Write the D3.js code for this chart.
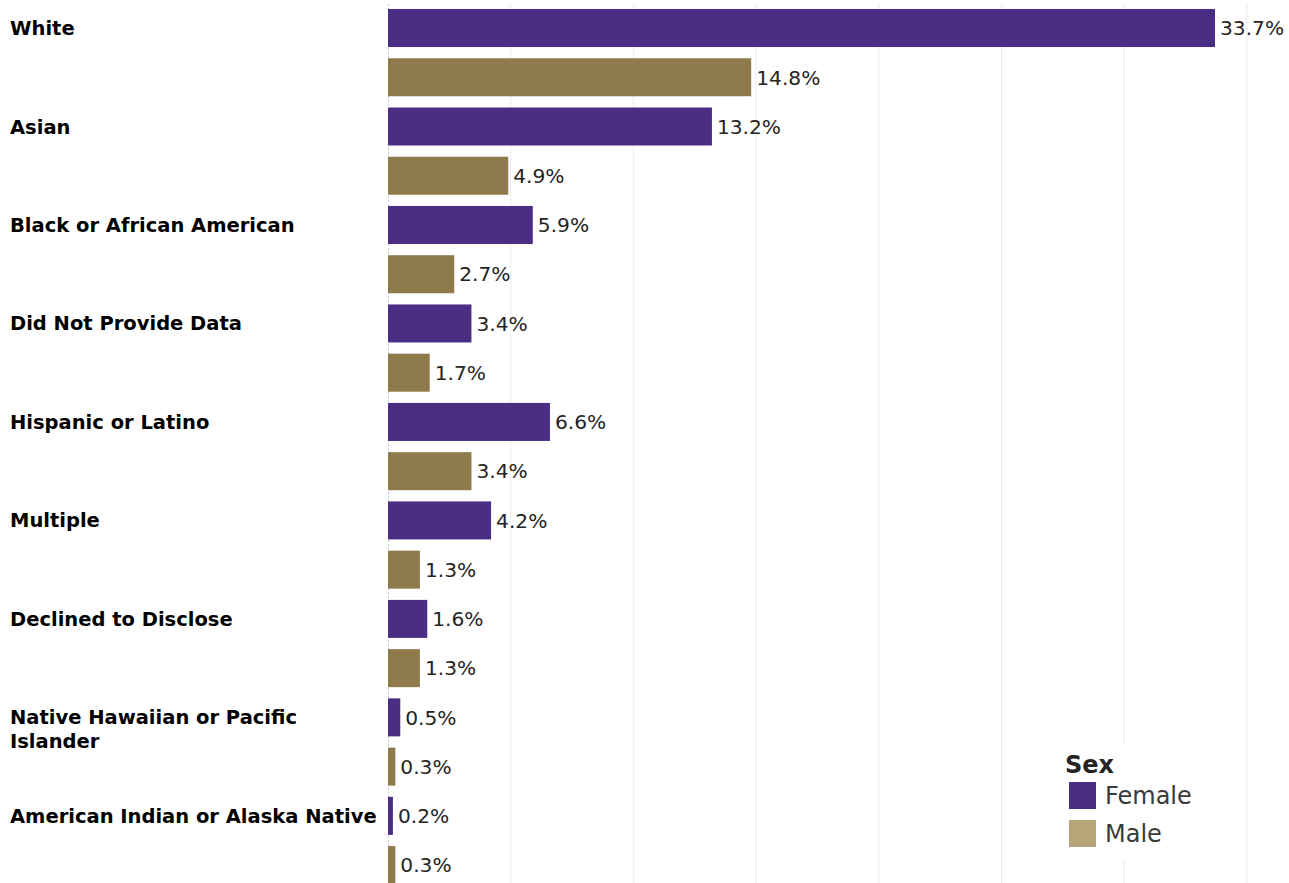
<!DOCTYPE html>
<html>
<head>
<meta charset="utf-8">
<script src="https://cdn.jsdelivr.net/npm/d3@7"></script>
<style>
  html, body { margin: 0; padding: 0; background: #fff; }
  svg { display: block; }
</style>
</head>
<body>
<svg id="chart" width="1289" height="883"></svg>
<script>
// Race / ethnicity breakdown by sex (percent of total)
const categories = [
  "White",
  "Asian",
  "Black or African American",
  "Did Not Provide Data",
  "Hispanic or Latino",
  "Multiple",
  "Declined to Disclose",
  "Native Hawaiian or Pacific Islander",
  "American Indian or Alaska Native"
];
const sexes = ["Female", "Male"];
const femaleValues = [33.7, 13.2, 5.9, 3.4, 6.6, 4.2, 1.6, 0.5, 0.2];
const maleValues   = [14.8, 4.9, 2.7, 1.7, 3.4, 1.3, 1.3, 0.3, 0.3];
const gridTicks = [5, 10, 15, 20, 25, 30, 35];

const barColor = { Female: "#4b2e83", Male: "#8f7a4c" };
const swatchColor = { Female: "#4b2e83", Male: "#b7a57a" };

const svg = d3.select("#chart");
const W = 1289, H = 883;
const plotLeft = 388;

// One row per (category, sex)
const rows = [];
categories.forEach((c, i) => {
  rows.push({ cat: c, sex: "Female", value: femaleValues[i], key: c + "|Female" });
  rows.push({ cat: c, sex: "Male", value: maleValues[i], key: c + "|Male" });
});

const x = d3.scaleLinear().domain([0, 35]).range([plotLeft, plotLeft + 35 * 24.54]);
const y = d3.scaleBand()
  .domain(rows.map(d => d.key))
  .range([3.4, 3.4 + rows.length * 49.24])
  .paddingInner(0.228)
  .paddingOuter(0.114);

// Vertical gridlines
const grid = svg.append("g").attr("class", "grid");
grid.selectAll("line")
  .data(gridTicks)
  .join("line")
  .attr("x1", d => x(d)).attr("x2", d => x(d))
  .attr("y1", 4).attr("y2", H)
  .attr("stroke", "#ececec")
  .attr("stroke-width", 1);

// Dotted baseline axis
svg.append("line")
  .attr("x1", x(0) + 0.5).attr("x2", x(0) + 0.5)
  .attr("y1", 4).attr("y2", H)
  .attr("stroke", "#c8c8c8")
  .attr("stroke-dasharray", "2,2");

// Bars
svg.append("g").selectAll("rect")
  .data(rows)
  .join("rect")
  .attr("x", x(0))
  .attr("y", d => y(d.key))
  .attr("width", d => x(d.value) - x(0))
  .attr("height", y.bandwidth())
  .attr("fill", d => barColor[d.sex]);

// Value labels
svg.append("g").selectAll("text")
  .data(rows)
  .join("text")
  .attr("x", d => x(d.value) + 5)
  .attr("y", d => y(d.key) + y.bandwidth() / 2)
  .attr("dy", "0.36em")
  .attr("font-family", "DejaVu Sans, Verdana, sans-serif")
  .attr("font-size", 20.2)
  .attr("fill", "#252423")
  .text(d => d.value.toFixed(1) + "%");

// Category labels, wrapped to fit the left margin
const maxLabelWidth = 372;
const catLabels = svg.append("g").selectAll("text")
  .data(categories)
  .join("text")
  .attr("x", 10)
  .attr("y", d => y(d + "|Female") + y.bandwidth() / 2)
  .attr("font-family", "DejaVu Sans, Verdana, sans-serif")
  .attr("font-weight", "bold")
  .attr("font-size", 19.5)
  .attr("fill", "#000");

catLabels.each(function(d) {
  const t = d3.select(this);
  const words = d.split(" ");
  let line = [];
  let tspan = t.append("tspan").attr("x", 10).attr("dy", "0.36em");
  words.forEach(w => {
    line.push(w);
    tspan.text(line.join(" "));
    if (tspan.node().getComputedTextLength() > maxLabelWidth && line.length > 1) {
      line.pop();
      tspan.text(line.join(" "));
      line = [w];
      tspan = t.append("tspan").attr("x", 10).attr("dy", "1.23em").text(w);
    }
  });
});

// Legend
const lg = svg.append("g").attr("transform", "translate(1057,746)");
lg.append("rect").attr("x", 0).attr("y", 0).attr("width", 150).attr("height", 114).attr("fill", "#fff");
lg.append("text")
  .attr("x", 8).attr("y", 27)
  .attr("font-family", "DejaVu Sans, Verdana, sans-serif")
  .attr("font-weight", "bold")
  .attr("font-size", 24)
  .attr("fill", "#252423")
  .text("Sex");
const items = lg.selectAll("g.item")
  .data(sexes)
  .join("g")
  .attr("class", "item")
  .attr("transform", (d, i) => `translate(12, ${36 + i * 38})`);
items.append("rect")
  .attr("width", 27).attr("height", 27)
  .attr("fill", d => swatchColor[d]);
items.append("text")
  .attr("x", 36).attr("y", 13.5)
  .attr("dy", "0.36em")
  .attr("font-family", "DejaVu Sans, Verdana, sans-serif")
  .attr("font-size", 24)
  .attr("fill", "#3a3a3a")
  .text(d => d);
</script>
</body>
</html>
